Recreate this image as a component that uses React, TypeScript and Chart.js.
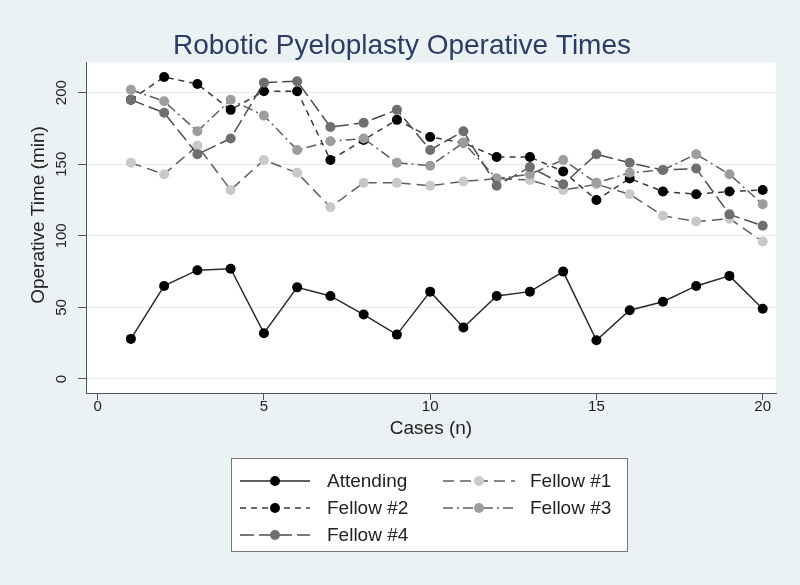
import React, { useEffect, useRef } from 'react';
import { Chart, registerables } from 'chart.js';

Chart.register(...registerables);

// ---- data ----
const cases = [1, 2, 3, 4, 5, 6, 7, 8, 9, 10, 11, 12, 13, 14, 15, 16, 17, 18, 19, 20];
const attending = [28, 65, 76, 77, 32, 64, 58, 45, 31, 61, 36, 58, 61, 75, 27, 48, 54, 65, 72, 49];
const fellow1 = [151, 143, 163, 132, 153, 144, 120, 137, 137, 135, 138, 140, 139, 132, 136, 129, 114, 110, 112, 96];
const fellow2 = [195, 211, 206, 188, 201, 201, 153, 167, 181, 169, 165, 155, 155, 145, 125, 140, 131, 129, 131, 132];
const fellow3 = [202, 194, 173, 195, 184, 160, 166, 168, 151, 149, 165, 140, 143, 153, 137, 144, 146, 157, 143, 122];
const fellow4 = [195, 186, 157, 168, 207, 208, 176, 179, 188, 160, 173, 135, 148, 136, 157, 151, 146, 147, 115, 107];
const seriesNames = ['Attending', 'Fellow #1', 'Fellow #2', 'Fellow #3', 'Fellow #4'];
const xTicks = [0, 5, 10, 15, 20];
const yTicks = [0, 50, 100, 150, 200];
const titleText = 'Robotic Pyeloplasty Operative Times';
const xTitle = 'Cases (n)';
const yTitle = 'Operative Time (min)';

const FONT = '"Liberation Sans", Arial, Helvetica, sans-serif';

const seriesValues = [attending, fellow1, fellow2, fellow3, fellow4];
const seriesStyles = [
  { line: '#2a2a2a', dash: [] as number[], marker: '#000000', order: 4 },
  { line: '#5e5e5e', dash: [11, 6], marker: '#c9c9c9', order: 3 },
  { line: '#3a3a3a', dash: [6, 5], marker: '#000000', order: 2 },
  { line: '#5e5e5e', dash: [10, 4, 2, 4], marker: '#9d9d9d', order: 1 },
  { line: '#4e4e4e', dash: [14, 5], marker: '#6f6f6f', order: 0 },
];

const backgroundPlugin = {
  id: 'bgPlugin',
  beforeDraw(chart: any) {
    const { ctx, chartArea } = chart;
    ctx.save();
    ctx.fillStyle = '#eaf2f3';
    ctx.fillRect(0, 0, chart.width, chart.height);
    ctx.fillStyle = '#ffffff';
    ctx.fillRect(chartArea.left, chartArea.top, chartArea.right - chartArea.left, chartArea.bottom - chartArea.top);
    ctx.restore();
  },
};

const yTitlePlugin = {
  id: 'yTitle',
  afterDraw(chart: any) {
    const ctx = chart.ctx;
    ctx.save();
    ctx.translate(39, 215);
    ctx.rotate(-Math.PI / 2);
    ctx.fillStyle = '#222222';
    ctx.font = `19px ${FONT}`;
    ctx.textAlign = 'center';
    ctx.textBaseline = 'middle';
    ctx.fillText(yTitle, 0, 0);
    ctx.restore();
  },
};

const legendPlugin = {
  id: 'boxLegend',
  afterDraw(chart: any) {
    const ctx = chart.ctx;
    ctx.save();
    const bx = 231.5, by = 458.5, bw = 396, bh = 93;
    ctx.fillStyle = '#ffffff';
    ctx.fillRect(bx, by, bw, bh);
    ctx.strokeStyle = '#777777';
    ctx.lineWidth = 1;
    ctx.strokeRect(bx, by, bw, bh);
    const cols = [
      { x0: 240, x1: 310, tx: 327 },
      { x0: 443, x1: 515, tx: 530 },
    ];
    const rows = [481, 508, 535];
    chart.data.datasets.forEach((ds: any, i: number) => {
      const c = cols[i % 2];
      const y = rows[Math.floor(i / 2)];
      ctx.strokeStyle = ds.borderColor;
      ctx.lineWidth = ds.borderWidth;
      ctx.setLineDash(ds.borderDash || []);
      ctx.beginPath();
      ctx.moveTo(c.x0, y);
      ctx.lineTo(c.x1, y);
      ctx.stroke();
      ctx.setLineDash([]);
      ctx.fillStyle = ds.pointBackgroundColor;
      ctx.beginPath();
      ctx.arc((c.x0 + c.x1) / 2, y, 5, 0, Math.PI * 2);
      ctx.fill();
      ctx.fillStyle = '#222222';
      ctx.font = `19px ${FONT}`;
      ctx.textBaseline = 'middle';
      ctx.textAlign = 'left';
      ctx.fillText(ds.label, c.tx, y + 1);
    });
    ctx.restore();
  },
};

export default function App() {
  const canvasRef = useRef<HTMLCanvasElement | null>(null);

  useEffect(() => {
    document.body.style.margin = '0';
    const canvas = canvasRef.current;
    if (!canvas) return;

    const datasets = seriesNames.map((name, si) => ({
      label: name,
      data: cases.map((c, i) => ({ x: c, y: seriesValues[si][i] })),
      borderColor: seriesStyles[si].line,
      borderWidth: 1.5,
      borderDash: seriesStyles[si].dash,
      pointBackgroundColor: seriesStyles[si].marker,
      pointBorderColor: seriesStyles[si].marker,
      pointBorderWidth: 0,
      pointRadius: 5,
      fill: false,
      tension: 0,
      order: seriesStyles[si].order,
    }));

    const chart = new Chart(canvas, {
      type: 'line',
      data: { datasets },
      options: {
        responsive: false,
        animation: false,
        devicePixelRatio: 1,
        layout: { padding: { left: 28, right: 24, top: 0, bottom: 132 } },
        plugins: {
          legend: { display: false },
          tooltip: { enabled: false },
          title: {
            display: true,
            text: titleText,
            color: '#2b3d66',
            font: { family: FONT, size: 28, weight: 'normal' },
            padding: { top: 29, bottom: 0 },
          },
        },
        scales: {
          x: {
            type: 'linear',
            min: -0.35,
            max: 20.4,
            afterBuildTicks: (s: any) => {
              s.ticks = xTicks.map((v) => ({ value: v }));
            },
            afterFit: (s: any) => {
              s.height = 60;
            },
            ticks: {
              padding: -2,
              autoSkip: false,
              maxRotation: 0,
              minRotation: 0,
              color: '#222222',
              font: { family: FONT, size: 15 },
            },
            grid: { display: true, drawOnChartArea: false, drawTicks: true, tickLength: 7, tickColor: '#555555' },
            border: { display: true, color: '#555555', width: 1 },
            title: {
              display: true,
              text: xTitle,
              color: '#222222',
              font: { family: FONT, size: 19 },
              padding: { top: 0, bottom: 12.6 },
            },
          },
          y: {
            type: 'linear',
            min: -9.8,
            max: 221,
            afterBuildTicks: (s: any) => {
              s.ticks = yTicks.map((v) => ({ value: v }));
            },
            afterFit: (s: any) => {
              s.width = 58;
            },
            ticks: {
              minRotation: 90,
              maxRotation: 90,
              crossAlign: 'center',
              padding: 4,
              color: '#222222',
              font: { family: FONT, size: 15 },
            },
            grid: { color: '#e3ebee', lineWidth: 1, drawTicks: true, tickLength: 8, tickColor: '#555555' },
            border: { display: true, color: '#555555', width: 1 },
            title: { display: false },
          },
        },
      } as any,
      plugins: [backgroundPlugin, yTitlePlugin, legendPlugin],
    });

    return () => {
      chart.destroy();
    };
  }, []);

  return (
    <div style={{ width: 800, height: 585 }}>
      <canvas ref={canvasRef} width={800} height={585} style={{ display: 'block' }} />
    </div>
  );
}
